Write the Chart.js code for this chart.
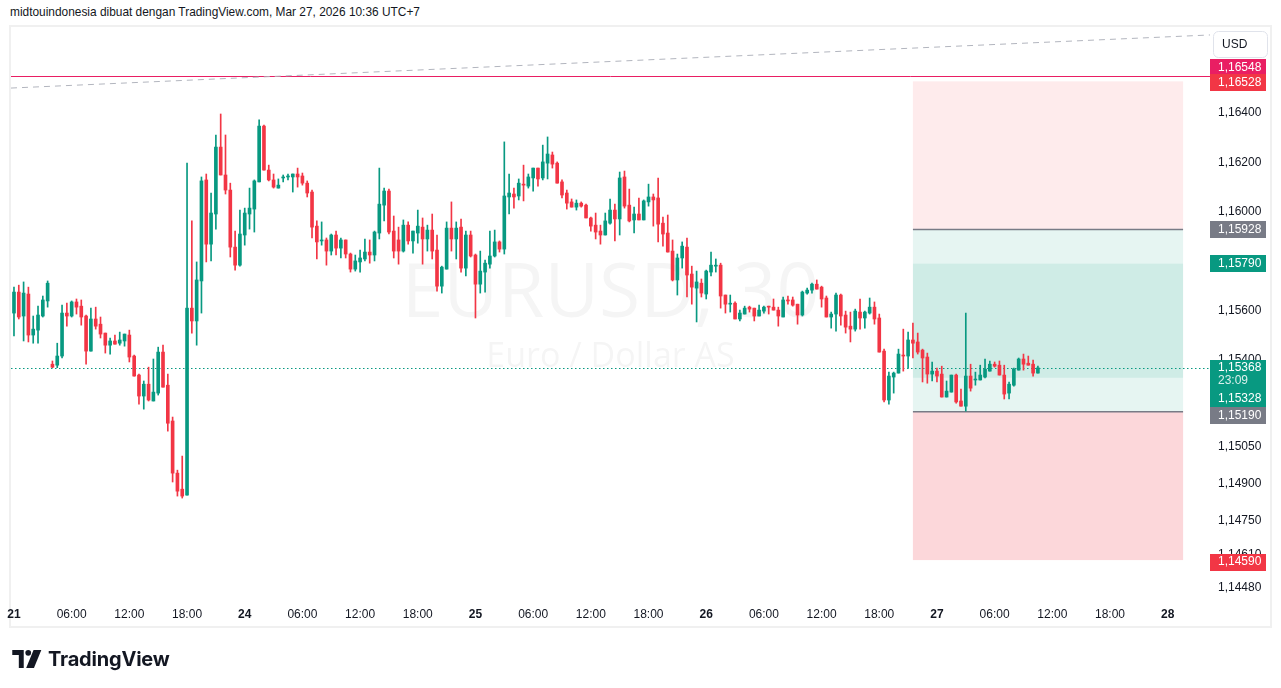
<!DOCTYPE html>
<html>
<head>
<meta charset="utf-8">
<title>EURUSD, 30</title>
<script src="https://cdn.jsdelivr.net/npm/chart.js@4.4.1/dist/chart.umd.min.js"></script>
<style>
  html, body { margin: 0; padding: 0; background: #fff; }
  body { width: 1281px; height: 688px; position: relative; overflow: hidden; font-family: "Liberation Sans", sans-serif; color: #131722; }
  #header { position: absolute; left: 10px; top: 4px; font-size: 11.9px; line-height: 16px; white-space: nowrap; }
  #frame { position: absolute; left: 9px; top: 25px; width: 1263px; height: 603px; box-sizing: border-box; border: 2px solid #f0f0f0; }
  #wrap { position: absolute; left: 0; top: 0; width: 1281px; height: 688px; }
  #logo { position: absolute; left: 12px; top: 647px; display: flex; align-items: center; gap: 6px; font-family: Inter, sans-serif; font-weight: 700; font-size: 20px; letter-spacing: -0.2px; }
</style>
</head>
<body>
<div id="header">midtouindonesia dibuat dengan TradingView.com, Mar 27, 2026 10:36 UTC+7</div>
<div id="frame"></div>
<div id="wrap"><canvas id="chart" width="1281" height="688"></canvas></div>
<div id="logo">
  <svg width="30" height="18" viewBox="0 0 36 22"><path d="M0 0h14v22H8V6H0z" fill="#131722"/><circle cx="19.5" cy="3.5" r="3.5" fill="#131722"/><path d="M26 0h9.5l-9 22H17z" fill="#131722"/></svg>
  <span>TradingView</span>
</div>
<script>
// EURUSD 30m candles, one entry per bar (bar 0 = "21" on the time axis)
const OPEN = [
  1.15590,1.15675,1.15578,1.15667,1.15501,1.15521,1.15578,1.15639,1.15383,1.15379,
  1.15416,1.15590,1.15578,1.15635,1.15618,1.15578,1.15436,1.15566,1.15545,1.15509,
  1.15460,1.15477,1.15468,1.15477,1.15501,1.15416,1.15339,1.15254,1.15302,1.15234,
  1.15266,1.15432,1.15298,1.15153,1.14942,1.14877,1.14853,1.15610,1.15558,1.15720,
  1.16129,1.15869,1.15991,1.16262,1.16149,1.16088,1.15857,1.15784,1.15906,1.15991,
  1.16011,1.16121,1.16347,1.16169,1.16129,1.16096,1.16137,1.16141,1.16141,1.16153,
  1.16145,1.16116,1.16080,1.15942,1.15882,1.15886,1.15841,1.15906,1.15853,1.15886,
  1.15829,1.15768,1.15797,1.15809,1.15837,1.15825,1.15914,1.16027,1.16084,1.15922,
  1.15886,1.15841,1.15946,1.15882,1.15914,1.15938,1.15890,1.15926,1.15845,1.15699,
  1.15768,1.15934,1.15890,1.15938,1.15772,1.15906,1.15825,1.15707,1.15756,1.15788,
  1.15821,1.15878,1.15849,1.16060,1.16072,1.16064,1.16112,1.16104,1.16137,1.16177,
  1.16137,1.16197,1.16230,1.16197,1.16121,1.16076,1.16040,1.16019,1.16035,1.16027,
  1.15975,1.15946,1.15922,1.15906,1.15954,1.16007,1.15971,1.16141,1.16027,1.15967,
  1.15991,1.15967,1.16040,1.16060,1.16056,1.15954,1.15914,1.15841,1.15724,1.15813,
  1.15857,1.15748,1.15691,1.15711,1.15667,1.15756,1.15780,1.15784,1.15663,1.15626,
  1.15630,1.15566,1.15586,1.15614,1.15610,1.15578,1.15598,1.15618,1.15614,1.15602,
  1.15574,1.15643,1.15643,1.15626,1.15582,1.15671,1.15683,1.15707,1.15695,1.15651,
  1.15574,1.15586,1.15663,1.15582,1.15537,1.15525,1.15594,1.15570,1.15590,1.15614,
  1.15570,1.15436,1.15238,1.15331,1.15347,1.15420,1.15416,1.15481,1.15473,1.15440,
  1.15412,1.15343,1.15355,1.15343,1.15250,1.15270,1.15339,1.15234,1.15213,1.15335,
  1.15319,1.15319,1.15331,1.15355,1.15383,1.15379,1.15339,1.15266,1.15298,1.15359,
  1.15404,1.15387,1.15383,1.15347
];
const HIGH = [
  1.15695,1.15703,1.15716,1.15695,1.15578,1.15618,1.15659,1.15720,1.15396,1.15468,
  1.15622,1.15630,1.15639,1.15647,1.15643,1.15582,1.15610,1.15614,1.15574,1.15509,
  1.15489,1.15501,1.15513,1.15505,1.15521,1.15420,1.15343,1.15315,1.15371,1.15404,
  1.15452,1.15460,1.15343,1.15169,1.14954,1.15011,1.16197,1.15963,1.15797,1.16141,
  1.16153,1.16076,1.16311,1.16396,1.16311,1.16116,1.15922,1.16007,1.16015,1.16096,
  1.16129,1.16372,1.16351,1.16189,1.16153,1.16133,1.16149,1.16153,1.16153,1.16177,
  1.16157,1.16125,1.16088,1.15963,1.15959,1.15894,1.15910,1.15922,1.15894,1.15886,
  1.15833,1.15825,1.15845,1.15890,1.15886,1.15922,1.16177,1.16096,1.16092,1.15983,
  1.15938,1.15967,1.15959,1.15922,1.16007,1.15975,1.15946,1.15991,1.15906,1.15780,
  1.15959,1.16040,1.15959,1.15971,1.15922,1.15922,1.15829,1.15841,1.15805,1.15922,
  1.15926,1.15882,1.16283,1.16153,1.16096,1.16133,1.16189,1.16153,1.16177,1.16177,
  1.16270,1.16303,1.16242,1.16202,1.16129,1.16088,1.16052,1.16048,1.16040,1.16031,
  1.15979,1.15995,1.15946,1.15995,1.16052,1.16031,1.16161,1.16165,1.16092,1.16019,
  1.16056,1.16048,1.16112,1.16072,1.16137,1.15979,1.15987,1.15886,1.15829,1.15878,
  1.15894,1.15780,1.15760,1.15728,1.15764,1.15837,1.15809,1.15792,1.15663,1.15663,
  1.15635,1.15602,1.15618,1.15618,1.15610,1.15622,1.15618,1.15618,1.15647,1.15614,
  1.15655,1.15659,1.15655,1.15626,1.15679,1.15691,1.15711,1.15724,1.15699,1.15659,
  1.15594,1.15671,1.15667,1.15598,1.15594,1.15606,1.15647,1.15598,1.15651,1.15635,
  1.15586,1.15444,1.15351,1.15351,1.15444,1.15525,1.15513,1.15549,1.15509,1.15444,
  1.15428,1.15392,1.15367,1.15375,1.15315,1.15339,1.15343,1.15282,1.15590,1.15383,
  1.15351,1.15379,1.15404,1.15396,1.15392,1.15396,1.15379,1.15311,1.15367,1.15408,
  1.15424,1.15416,1.15400,1.15375
];
const LOW = [
  1.15497,1.15566,1.15477,1.15473,1.15468,1.15468,1.15574,1.15614,1.15369,1.15369,
  1.15408,1.15537,1.15574,1.15586,1.15541,1.15383,1.15436,1.15525,1.15489,1.15428,
  1.15424,1.15464,1.15460,1.15456,1.15392,1.15335,1.15221,1.15201,1.15234,1.15234,
  1.15258,1.15290,1.15112,1.14906,1.14849,1.14841,1.14853,1.15509,1.15460,1.15590,
  1.15797,1.15801,1.15930,1.16149,1.16072,1.15817,1.15764,1.15780,1.15865,1.15930,
  1.15918,1.16121,1.16169,1.16125,1.16096,1.16096,1.16121,1.16129,1.16080,1.16100,
  1.16108,1.16060,1.15894,1.15809,1.15865,1.15784,1.15825,1.15825,1.15813,1.15813,
  1.15756,1.15760,1.15756,1.15801,1.15792,1.15801,1.15890,1.15963,1.15910,1.15813,
  1.15788,1.15837,1.15869,1.15833,1.15873,1.15788,1.15841,1.15809,1.15679,1.15671,
  1.15768,1.15841,1.15809,1.15756,1.15740,1.15817,1.15570,1.15671,1.15675,1.15772,
  1.15817,1.15837,1.15829,1.15991,1.16015,1.16048,1.16044,1.16096,1.16084,1.16104,
  1.16129,1.16133,1.16177,1.16116,1.16056,1.16011,1.16019,1.16007,1.16019,1.15975,
  1.15922,1.15890,1.15869,1.15906,1.15950,1.15882,1.15906,1.16015,1.15959,1.15914,
  1.15967,1.15967,1.16023,1.15942,1.15878,1.15861,1.15837,1.15720,1.15663,1.15772,
  1.15655,1.15626,1.15554,1.15655,1.15647,1.15740,1.15756,1.15610,1.15590,1.15594,
  1.15566,1.15558,1.15586,1.15594,1.15558,1.15578,1.15590,1.15586,1.15602,1.15537,
  1.15574,1.15626,1.15618,1.15545,1.15578,1.15667,1.15671,1.15687,1.15614,1.15574,
  1.15529,1.15517,1.15541,1.15509,1.15473,1.15517,1.15525,1.15529,1.15586,1.15545,
  1.15432,1.15230,1.15221,1.15266,1.15347,1.15355,1.15367,1.15408,1.15424,1.15311,
  1.15306,1.15315,1.15311,1.15250,1.15250,1.15270,1.15225,1.15213,1.15193,1.15274,
  1.15298,1.15319,1.15327,1.15355,1.15371,1.15339,1.15242,1.15242,1.15294,1.15359,
  1.15359,1.15379,1.15335,1.15347
];
const CLOSE = [
  1.15675,1.15574,1.15671,1.15501,1.15525,1.15582,1.15643,1.15711,1.15371,1.15416,
  1.15590,1.15578,1.15635,1.15614,1.15574,1.15436,1.15566,1.15537,1.15505,1.15460,
  1.15477,1.15464,1.15481,1.15505,1.15412,1.15335,1.15254,1.15302,1.15238,1.15270,
  1.15432,1.15290,1.15144,1.14942,1.14869,1.14849,1.15610,1.15558,1.15724,1.16125,
  1.15869,1.15995,1.16262,1.16149,1.16088,1.15857,1.15784,1.15910,1.15995,1.16015,
  1.16125,1.16347,1.16169,1.16129,1.16100,1.16108,1.16141,1.16145,1.16153,1.16141,
  1.16116,1.16076,1.15938,1.15878,1.15886,1.15841,1.15906,1.15853,1.15886,1.15829,
  1.15768,1.15801,1.15813,1.15837,1.15825,1.15918,1.16031,1.16084,1.15918,1.15841,
  1.15841,1.15946,1.15882,1.15922,1.15942,1.15890,1.15926,1.15841,1.15699,1.15776,
  1.15934,1.15890,1.15934,1.15772,1.15906,1.15821,1.15707,1.15760,1.15792,1.15821,
  1.15878,1.15849,1.16064,1.16076,1.16060,1.16116,1.16108,1.16141,1.16177,1.16133,
  1.16202,1.16234,1.16193,1.16116,1.16068,1.16035,1.16019,1.16035,1.16023,1.15975,
  1.15942,1.15918,1.15906,1.15963,1.16007,1.15971,1.16137,1.16023,1.15963,1.15991,
  1.15967,1.16044,1.16060,1.16048,1.15950,1.15910,1.15837,1.15724,1.15813,1.15861,
  1.15744,1.15695,1.15716,1.15671,1.15760,1.15784,1.15784,1.15659,1.15626,1.15630,
  1.15566,1.15590,1.15610,1.15606,1.15578,1.15602,1.15614,1.15614,1.15602,1.15578,
  1.15643,1.15639,1.15622,1.15582,1.15675,1.15683,1.15707,1.15687,1.15647,1.15574,
  1.15586,1.15663,1.15578,1.15533,1.15525,1.15598,1.15570,1.15594,1.15614,1.15566,
  1.15432,1.15238,1.15335,1.15347,1.15424,1.15416,1.15481,1.15468,1.15432,1.15408,
  1.15343,1.15355,1.15335,1.15250,1.15274,1.15339,1.15230,1.15213,1.15335,1.15286,
  1.15323,1.15339,1.15363,1.15383,1.15375,1.15339,1.15262,1.15302,1.15363,1.15404,
  1.15383,1.15379,1.15347,1.15368
];

// time axis: one label every 12 bars (6 hours)
const TIME_LABELS = ["21", "06:00", "12:00", "18:00", "24", "06:00", "12:00", "18:00",
  "25", "06:00", "12:00", "18:00", "26", "06:00", "12:00", "18:00",
  "27", "06:00", "12:00", "18:00", "28"];
const PRICE_TICKS = [1.1640, 1.1620, 1.1600, 1.1560, 1.1540, 1.1505, 1.1490, 1.1475, 1.1461, 1.1448];

// visible range
const X_MIN = -0.62, X_MAX = 248.8;
const Y_MIN = 1.144283, Y_MAX = 1.167482;

// drawings on the chart
const ALERT_LEVEL = 1.16548;
const TREND_LINE = [[-0.62, 1.16501], [248.8, 1.16716]];
const POSITION_BARS = [187, 243.2];
const POSITION_LEVELS = [1.16528, 1.15928, 1.15190, 1.14590];   // top stop, entry, entry 2, bottom stop
const OPEN_PNL = [1.15790, 1.15328];
const COUNTDOWN = "23:09";

const UP = "#089981", DOWN = "#f23645";
const FONT = '"Liberation Sans", sans-serif';
Chart.defaults.font.family = FONT;
Chart.defaults.color = "#131722";

const fmt = v => v.toFixed(5).replace(".", ",");
const colors = OPEN.map((o, i) => CLOSE[i] >= o ? UP : DOWN);

const overlay = {
  id: "overlay",
  beforeDatasetsDraw(chart) {
    const { ctx, chartArea: a, scales: { x, y } } = chart;
    ctx.save();
    ctx.beginPath();
    ctx.rect(a.left, a.top, a.right - a.left, a.bottom - a.top);
    ctx.clip();

    // symbol watermark
    const cx = (a.left + a.right) / 2;
    ctx.fillStyle = "rgba(19,23,34,0.045)";
    ctx.textAlign = "center";
    ctx.textBaseline = "alphabetic";
    ctx.font = '75px "Open Sans", sans-serif';
    ctx.fillText("EURUSD, 30", cx, a.top + 290);
    ctx.font = '34px "Open Sans", sans-serif';
    ctx.fillText("Euro / Dollar AS", cx, a.top + 340);

    // position tool
    const x0 = x.getPixelForValue(POSITION_BARS[0]);
    const x1 = x.getPixelForValue(POSITION_BARS[1]);
    const band = (p1, p2, color) => {
      const ya = y.getPixelForValue(p1), yb = y.getPixelForValue(p2);
      ctx.fillStyle = color;
      ctx.fillRect(x0, ya, x1 - x0, yb - ya);
    };
    band(POSITION_LEVELS[0], POSITION_LEVELS[1], "rgba(242,54,69,0.1)");
    band(POSITION_LEVELS[1], POSITION_LEVELS[2], "rgba(8,153,129,0.1)");
    band(OPEN_PNL[0], OPEN_PNL[1], "rgba(8,153,129,0.1)");
    band(POSITION_LEVELS[2], POSITION_LEVELS[3], "rgba(242,54,69,0.2)");
    ctx.strokeStyle = "#787b86";
    ctx.lineWidth = 1.5;
    [POSITION_LEVELS[1], POSITION_LEVELS[2]].forEach(p => {
      const py = y.getPixelForValue(p);
      ctx.beginPath();
      ctx.moveTo(x0, py);
      ctx.lineTo(x1, py);
      ctx.stroke();
    });

    // alert line
    ctx.lineWidth = 1;
    ctx.strokeStyle = "#e91e63";
    const ay = Math.round(y.getPixelForValue(ALERT_LEVEL)) + 0.5;
    ctx.beginPath();
    ctx.moveTo(a.left, ay);
    ctx.lineTo(a.right, ay);
    ctx.stroke();

    // dashed trend line
    ctx.strokeStyle = "#b2b5be";
    ctx.setLineDash([6, 5]);
    ctx.beginPath();
    ctx.moveTo(x.getPixelForValue(TREND_LINE[0][0]), y.getPixelForValue(TREND_LINE[0][1]));
    ctx.lineTo(x.getPixelForValue(TREND_LINE[1][0]), y.getPixelForValue(TREND_LINE[1][1]));
    ctx.stroke();

    // last price line
    ctx.strokeStyle = UP;
    ctx.setLineDash([1.5, 2.5]);
    const ly = Math.round(y.getPixelForValue(CLOSE[CLOSE.length - 1])) + 0.5;
    ctx.beginPath();
    ctx.moveTo(a.left, ly);
    ctx.lineTo(a.right, ly);
    ctx.stroke();
    ctx.restore();
  },
  afterDraw(chart) {
    const { ctx, chartArea: a, scales: { y } } = chart;
    ctx.save();
    ctx.font = "12px " + FONT;
    ctx.textAlign = "left";
    ctx.textBaseline = "middle";
    const left = a.right;
    const tag = (text, yc, bg) => {
      ctx.fillStyle = bg;
      ctx.fillRect(left, Math.round(yc - 8.5), 56, 17);
      ctx.fillStyle = "#fff";
      ctx.fillText(text, left + 8, yc);
    };
    const yp = p => y.getPixelForValue(p);
    tag(fmt(ALERT_LEVEL), yp(ALERT_LEVEL) - 9, "#e91e63");
    tag(fmt(POSITION_LEVELS[0]), yp(POSITION_LEVELS[0]) + 1, DOWN);
    tag(fmt(POSITION_LEVELS[1]), yp(POSITION_LEVELS[1]), "#787b86");
    tag(fmt(OPEN_PNL[0]), yp(OPEN_PNL[0]), UP);

    // last price box with countdown
    const last = CLOSE[CLOSE.length - 1];
    const ty = yp(last);
    ctx.fillStyle = UP;
    ctx.fillRect(left, Math.round(ty - 8), 56, 47);
    ctx.fillStyle = "#fff";
    ctx.fillText(fmt(last), left + 8, ty);
    ctx.fillStyle = "rgba(255,255,255,0.85)";
    ctx.fillText(COUNTDOWN, left + 8, ty + 13);
    ctx.fillStyle = "#fff";
    ctx.fillText(fmt(OPEN_PNL[1]), left + 8, ty + 30.5);

    tag(fmt(POSITION_LEVELS[2]), yp(POSITION_LEVELS[2]) + 4, "#787b86");
    tag(fmt(POSITION_LEVELS[3]), yp(POSITION_LEVELS[3]) + 2, DOWN);

    // currency button
    ctx.strokeStyle = "#e0e3eb";
    ctx.lineWidth = 1;
    ctx.fillStyle = "#fff";
    ctx.beginPath();
    ctx.roundRect(left + 3.5, a.top + 4.5, 54, 26, 5);
    ctx.fill();
    ctx.stroke();
    ctx.fillStyle = "#131722";
    ctx.fillText("USD", left + 12, a.top + 18);
    ctx.restore();
  }
};

new Chart(document.getElementById("chart"), {
  type: "bar",
  data: {
    datasets: [
      {
        label: "wick",
        data: OPEN.map((o, i) => ({ x: i, y: [LOW[i], HIGH[i]] })),
        backgroundColor: colors,
        barThickness: 1,
        grouped: false
      },
      {
        label: "body",
        data: OPEN.map((o, i) => ({ x: i, y: [Math.min(o, CLOSE[i]), Math.max(o, CLOSE[i])] })),
        backgroundColor: colors,
        barThickness: 3,
        minBarLength: 1,
        grouped: false
      }
    ]
  },
  options: {
    responsive: false,
    animation: false,
    devicePixelRatio: 1,
    layout: { padding: { left: 11, top: 27, right: 11, bottom: 61 } },
    plugins: { legend: { display: false }, tooltip: { enabled: false } },
    scales: {
      x: {
        type: "linear",
        min: X_MIN,
        max: X_MAX,
        offset: false,
        grid: { display: false, drawTicks: false },
        border: { display: false },
        ticks: {
          autoSkip: false,
          maxRotation: 0,
          padding: 7,
          color: "#131722",
          font: c => ({ size: 12, weight: c.index % 4 === 0 ? "bold" : "normal" }),
          callback: (v, i) => TIME_LABELS[i]
        },
        afterBuildTicks: s => { s.ticks = TIME_LABELS.map((l, i) => ({ value: i * 12 })); },
        afterFit: s => { s.height = 27; }
      },
      y: {
        type: "linear",
        position: "right",
        min: Y_MIN,
        max: Y_MAX,
        grid: { display: false, drawTicks: false },
        border: { display: false },
        ticks: {
          padding: 8,
          color: "#131722",
          font: { size: 12 },
          callback: v => fmt(v)
        },
        afterBuildTicks: s => { s.ticks = PRICE_TICKS.map(v => ({ value: v })); },
        afterFit: s => { s.width = 60; }
      }
    }
  },
  plugins: [overlay]
});
</script>
</body>
</html>
